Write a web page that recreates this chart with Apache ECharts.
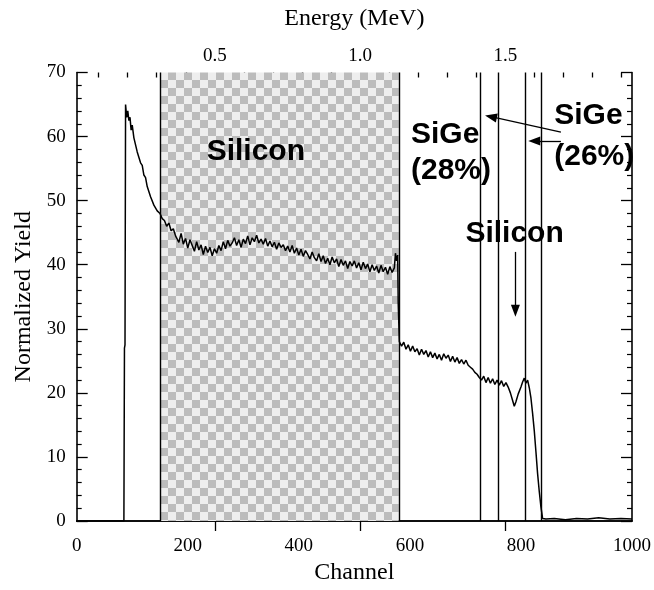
<!DOCTYPE html>
<html>
<head>
<meta charset="utf-8">
<script src="https://cdn.jsdelivr.net/npm/echarts@6/dist/echarts.min.js"></script>
<style>
  html, body { margin: 0; padding: 0; background: #fff; }
  #chart { width: 654px; height: 590px; }
</style>
</head>
<body>
<div id="chart"></div>
<script>
// RBS spectrum: [channel, normalized yield]
const spectrumPoints = [
  [0, 0], [85, 0], [86, 27], [87, 27.5], [88, 65], [90, 63], [92, 64], [94, 62.5], [96, 63], [98, 61],
  [100, 61.8], [103, 59.8], [106, 59.5], [109, 57.6], [112, 57.8], [115, 55.9], [118, 55.5], [121, 54], [124, 53.6], [127, 52.2],
  [130, 51.9], [133, 50.6], [136, 50.8], [139, 49.3], [142, 49.5], [145, 48.4], [148, 48.6], [150, 48], [154, 47.2], [158, 46.9],
  [162, 46.0], [166, 46.5], [170, 45.3], [174, 45.6], [178, 44.5],
  [180, 44.6], [184, 43.5], [188, 44.9], [192, 43.2], [196, 44.1], [200, 42.6], [204, 43.9], [208, 43.0], [212, 42.1], [216, 43.6],
  [220, 42.3], [224, 43.1], [228, 41.6], [232, 42.9], [236, 41.9], [240, 42.7], [244, 41.4], [248, 42.5], [252, 41.8], [256, 43.0],
  [260, 42.2], [264, 43.6], [268, 42.5], [272, 43.8], [276, 42.9], [280, 43.4], [284, 44.2], [288, 43.0], [292, 43.9], [296, 42.7],
  [300, 44.0], [304, 43.3], [308, 44.5], [312, 43.1], [316, 44.2], [320, 43.6], [324, 44.6], [328, 43.4], [332, 44.0], [336, 43.2],
  [340, 44.1], [344, 42.9], [348, 43.7], [352, 42.8], [356, 43.5], [360, 42.4], [364, 43.4], [368, 42.7], [372, 43.1], [376, 42.2],
  [380, 42.9], [384, 42.0], [388, 43.0], [392, 41.8], [396, 42.6], [400, 41.5], [404, 42.4], [408, 41.3], [412, 42.2], [416, 41.6],
  [420, 40.9], [424, 42.0], [428, 41.1], [432, 40.6], [436, 41.7], [440, 40.5], [444, 41.4], [448, 40.2], [452, 41.0], [456, 40.0],
  [460, 41.2], [464, 40.3], [468, 40.9], [472, 39.7], [476, 40.8], [480, 39.9], [484, 40.6], [488, 39.4], [492, 40.5], [496, 39.8],
  [500, 40.6], [504, 39.5], [508, 40.3], [512, 39.2], [516, 40.4], [520, 39.4], [524, 40.1], [528, 38.9], [532, 40.0], [536, 39.1],
  [540, 39.8], [544, 38.7], [548, 39.9], [552, 38.9], [556, 39.6], [560, 38.5], [564, 39.7], [568, 38.8], [572, 39.5], [574, 41.8],
  [576, 40.6], [578, 41.5], [579, 34], [581, 28.0], [585, 27.3], [589, 27.9], [593, 26.8], [597, 27.5], [601, 26.5], [605, 27.3],
  [609, 26.4], [613, 26.9], [617, 25.9], [621, 26.8], [625, 26.0], [629, 26.6], [633, 25.6], [637, 26.4], [641, 25.5], [645, 26.2],
  [649, 25.3], [653, 26.0], [657, 25.1], [661, 26.1], [665, 25.4], [669, 25.9], [673, 24.9], [677, 25.7], [681, 24.8], [685, 25.5],
  [689, 24.6], [693, 25.2], [697, 24.5], [701, 25.1], [705, 24.3], [709, 24.0], [713, 23.7], [717, 23.2], [721, 22.9], [725, 22.4],
  [729, 22.0], [733, 22.6], [737, 21.6], [741, 22.4], [745, 21.5], [749, 22.2], [753, 21.3], [757, 22.0], [761, 21.2], [765, 21.9],
  [769, 21.0], [773, 21.6], [777, 20.9], [781, 20.0], [785, 18.8], [788, 17.9], [791, 18.6], [795, 19.8], [800, 20.9], [803, 21.7],
  [806, 22.3], [809, 21.5], [812, 22.0], [815, 20.8], [818, 19.2], [821, 16.8], [824, 14.1], [827, 10.8], [830, 7.4], [833, 4.6],
  [836, 2.2], [839, 0.4], [845, 0.3], [860, 0.4], [880, 0.2], [900, 0.4], [920, 0.3], [940, 0.5], [960, 0.3], [980, 0.4],
  [1000, 0.3]
];

// Channel ranges and boundaries
const shadedRange = [150, 580];
const boundaryChannels = [150, 580, 727, 760, 807, 837];

// Axis ticks
const channelTicks = [0, 200, 400, 600, 800, 1000];
const yieldTicks = [0, 10, 20, 30, 40, 50, 60, 70];
const energyLabels = [0.5, 1.0, 1.5];
const energyMinorTicks = [0.1, 0.2, 0.3, 0.4, 0.6, 0.7, 0.8, 0.9, 1.1, 1.2, 1.3, 1.4, 1.6, 1.7, 1.8, 1.9];
// Energy scale range spanning the channel axis (0..1000)
const energyRange = [0.0247, 1.9354];

// Annotation texts
const labelSilicon = 'Silicon';
const labelSiGe = 'SiGe';
const label28 = '(28%)';
const label26 = '(26%)';

const serif = '"Liberation Serif", "Times New Roman", serif';
const sans = '"Liberation Sans", Arial, Helvetica, sans-serif';

// Checkerboard fill for the shaded silicon region
function checkerPattern() {
  const c = document.createElement('canvas');
  const s = 8;
  c.width = s * 2; c.height = s * 2;
  const ctx = c.getContext('2d');
  ctx.fillStyle = '#eeeeee';
  ctx.fillRect(0, 0, s * 2, s * 2);
  ctx.fillStyle = '#bcbcbc';
  ctx.fillRect(0, 0, s, s);
  ctx.fillRect(s, s, s, s);
  return c;
}

const chart = echarts.init(document.getElementById('chart'), null, { renderer: 'canvas' });
const black = '#000';

const option = {
  animation: false,
  backgroundColor: '#fff',
  grid: { left: 76.7, right: 21.3, top: 72.5, bottom: 66 },
  xAxis: [
    {
      type: 'value', position: 'bottom',
      min: channelTicks[0], max: channelTicks[channelTicks.length - 1], interval: 200,
      name: 'Channel', nameLocation: 'middle', nameGap: 40,
      nameTextStyle: { fontFamily: serif, fontSize: 24, color: black },
      axisLine: { show: true, lineStyle: { color: black, width: 1.6 } },
      axisTick: { show: false },
      axisLabel: { fontFamily: serif, fontSize: 19, color: black, margin: 16, formatter: v => String(v) },
      splitLine: { show: false }
    },
    {
      type: 'value', position: 'top',
      min: energyRange[0], max: energyRange[1],
      name: 'Energy (MeV)', nameLocation: 'middle', nameGap: 42,
      nameTextStyle: { fontFamily: serif, fontSize: 24, color: black },
      axisLine: { show: true, lineStyle: { color: black, width: 1.6 } },
      axisTick: { show: true, inside: true, length: 10, customValues: energyLabels, lineStyle: { color: black, width: 1.3 } },
      axisLabel: { show: true, customValues: energyLabels, formatter: v => v.toFixed(1), fontFamily: serif, fontSize: 19, color: black, margin: 7 },
      splitLine: { show: false }
    },
    {
      type: 'value', position: 'top',
      min: energyRange[0], max: energyRange[1],
      axisLine: { show: false },
      axisTick: { show: true, inside: true, length: 5, customValues: energyMinorTicks, lineStyle: { color: black, width: 1.3 } },
      axisLabel: { show: false },
      splitLine: { show: false }
    }
  ],
  yAxis: [
    {
      type: 'value', position: 'left',
      min: yieldTicks[0], max: yieldTicks[yieldTicks.length - 1], interval: 10,
      name: 'Normalized Yield', nameLocation: 'middle', nameGap: 38, nameRotate: 90,
      nameTextStyle: { fontFamily: serif, fontSize: 24, color: black },
      axisLine: { show: true, lineStyle: { color: black, width: 1.6 } },
      axisTick: { show: true, inside: true, length: 11, lineStyle: { color: black, width: 1.3 } },
      minorTick: { show: true, splitNumber: 5, length: 5, lineStyle: { color: black, width: 1.2 } },
      axisLabel: { fontFamily: serif, fontSize: 19, color: black, margin: 11 },
      splitLine: { show: false }
    },
    {
      type: 'value', position: 'right',
      min: yieldTicks[0], max: yieldTicks[yieldTicks.length - 1], interval: 10,
      axisLine: { show: true, lineStyle: { color: black, width: 1.6 } },
      axisTick: { show: true, inside: true, length: 11, lineStyle: { color: black, width: 1.3 } },
      minorTick: { show: true, splitNumber: 5, length: 5, lineStyle: { color: black, width: 1.2 } },
      axisLabel: { show: false },
      splitLine: { show: false }
    }
  ],
  series: [
    {
      // shaded silicon region
      type: 'line', xAxisIndex: 0, yAxisIndex: 0, data: [], z: 1, silent: true,
      markArea: {
        silent: true,
        itemStyle: { color: { image: checkerPattern(), repeat: 'repeat' }, opacity: 1 },
        data: [[{ xAxis: shadedRange[0], yAxis: 0 }, { xAxis: shadedRange[1], yAxis: 70 }]]
      }
    },
    {
      // region boundaries
      type: 'line', xAxisIndex: 0, yAxisIndex: 0, data: [], z: 2, silent: true,
      markLine: {
        silent: true, symbol: ['none', 'none'], label: { show: false },
        lineStyle: { color: black, width: 1.4, type: 'solid' },
        data: boundaryChannels.map(c => ({ xAxis: c }))
      }
    },
    {
      // annotation arrows
      type: 'line', xAxisIndex: 0, yAxisIndex: 0, data: [], z: 4, silent: true,
      markLine: {
        silent: true, symbol: ['none', 'triangle'], symbolSize: [9, 12], label: { show: false },
        lineStyle: { color: black, width: 1.3, type: 'solid' },
        itemStyle: { color: black },
        data: [
          [{ coord: [872, 60.7] }, { coord: [746, 63.1] }],
          [{ coord: [872, 59.3] }, { coord: [824, 59.3] }],
          [{ coord: [790, 42.0] }, { coord: [790, 32.8] }]
        ]
      }
    },
    {
      name: 'Spectrum', type: 'line', xAxisIndex: 0, yAxisIndex: 0, z: 3,
      data: spectrumPoints, showSymbol: false, symbol: 'none',
      lineStyle: { color: black, width: 1.5 }
    }
  ]
};

chart.setOption(option);

// Region labels placed in data coordinates
const notes = [
  { text: labelSilicon, at: [234, 57.7] },
  { text: labelSiGe, at: [602, 60.3] },
  { text: label28, at: [602, 54.6] },
  { text: labelSiGe, at: [860, 63.3] },
  { text: label26, at: [860, 56.9] },
  { text: labelSilicon, at: [700, 44.8] }
];
chart.setOption({
  graphic: notes.map(n => {
    const p = chart.convertToPixel({ gridIndex: 0 }, n.at);
    return {
      type: 'text', x: p[0], y: p[1], z: 10,
      style: {
        text: n.text, fill: black, font: 'bold 30px ' + sans,
        textAlign: 'left', textVerticalAlign: 'middle'
      }
    };
  })
});
</script>
</body>
</html>
